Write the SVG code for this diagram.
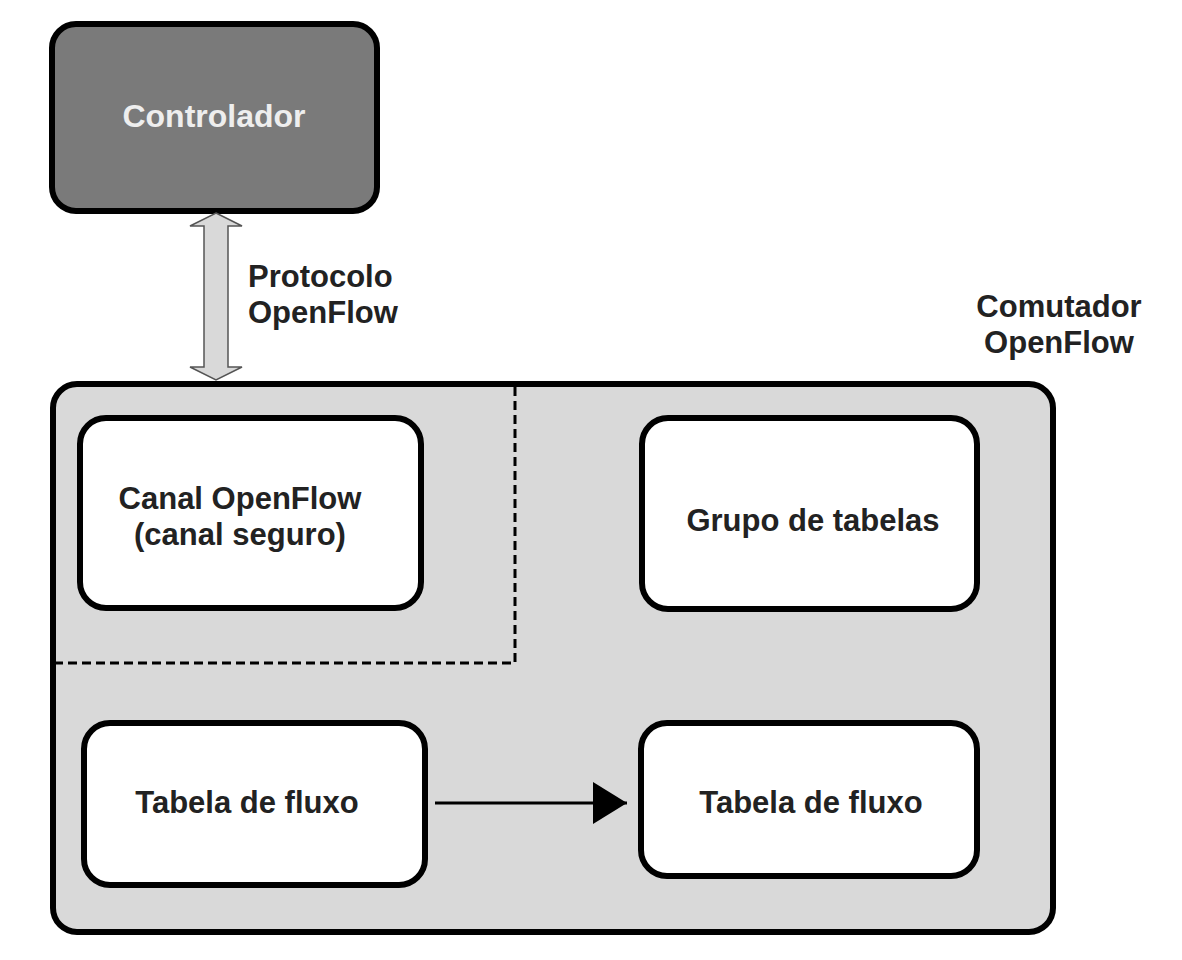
<svg xmlns="http://www.w3.org/2000/svg" width="1182" height="960" viewBox="0 0 1182 960">
<defs>
<style>
.box{fill:#fff;stroke:#000;stroke-width:6}
.t{font-family:"Liberation Sans",Arial,sans-serif;font-weight:bold;font-size:31px;fill:#222;text-anchor:middle}
</style>
<marker id="ah" viewBox="0 0 10 10" refX="10" refY="5" markerWidth="34" markerHeight="42" markerUnits="userSpaceOnUse" orient="auto" preserveAspectRatio="none">
<path d="M0,0 L10,5 L0,10 Z" fill="#000"/>
</marker>
</defs>
<rect width="1182" height="960" fill="#fff"/>
<g id="comutador">
<rect x="53" y="384" width="1000" height="548" rx="24" fill="#d9d9d9" stroke="#000" stroke-width="6"/>
<text class="t" x="1059" y="317">Comutador</text>
<text class="t" x="1059" y="353">OpenFlow</text>
</g>
<g id="canal-seguro-area">
<path d="M515,387 V663 H56" fill="none" stroke="#000" stroke-width="3" stroke-dasharray="9,5"/>
</g>
<g id="controlador">
<rect x="52" y="24" width="325" height="187" rx="24" fill="#7a7a7a" stroke="#000" stroke-width="6"/>
<text class="t" x="214" y="127" style="fill:#eee;font-size:32px">Controlador</text>
</g>
<g id="canal">
<rect class="box" x="80" y="418" width="341" height="190" rx="26"/>
<text class="t" x="240" y="509">Canal OpenFlow</text>
<text class="t" x="240" y="545">(canal seguro)</text>
</g>
<g id="grupo">
<rect class="box" x="642" y="418" width="335" height="191" rx="26"/>
<text class="t" x="813" y="531">Grupo de tabelas</text>
</g>
<g id="tabela1">
<rect class="box" x="84" y="723" width="341" height="162" rx="26"/>
<text class="t" x="247" y="813">Tabela de fluxo</text>
</g>
<g id="tabela2">
<rect class="box" x="641" y="723" width="336" height="153" rx="26"/>
<text class="t" x="811" y="813">Tabela de fluxo</text>
</g>
<g id="connectors">
<path d="M216,213 L242,226 L228,226 L228,367 L242,367 L216,380 L190,367 L204,367 L204,226 L190,226 Z" fill="#d9d9d9" stroke="#555" stroke-width="1.5" stroke-linejoin="miter"/>
<line x1="435" y1="803" x2="627" y2="803" stroke="#000" stroke-width="3" marker-end="url(#ah)"/>
<text class="t" x="248" y="287" style="text-anchor:start">Protocolo</text>
<text class="t" x="248" y="323" style="text-anchor:start">OpenFlow</text>
</g>
</svg>
